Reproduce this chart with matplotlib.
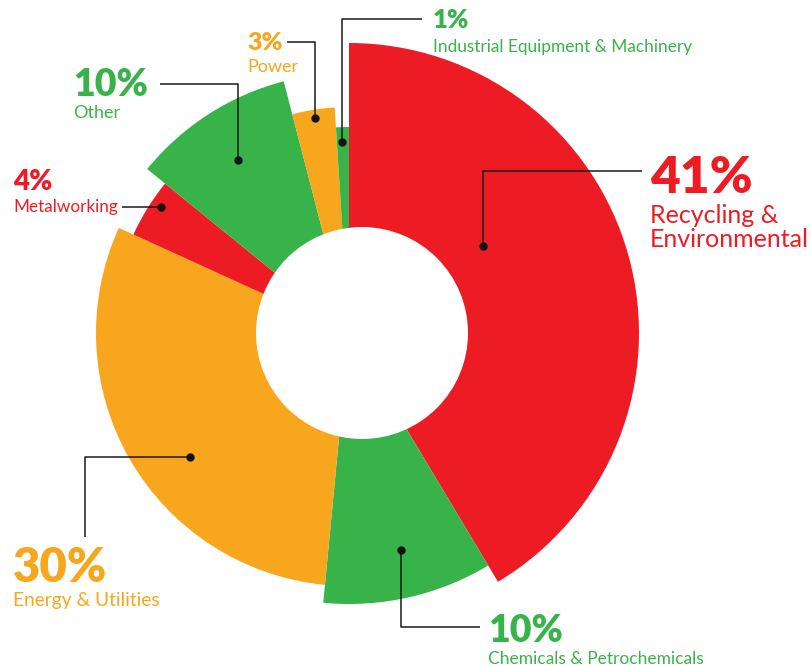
import matplotlib.pyplot as plt
from matplotlib.patches import Circle

W, H = 812, 666

# data
sectors = ["Recycling &\nEnvironmental", "Chemicals & Petrochemicals", "Energy & Utilities",
           "Metalworking", "Other", "Power", "Industrial Equipment & Machinery"]
shares = [41, 10, 30, 4, 10, 3, 1]
pct_labels = ["41%", "10%", "30%", "4%", "10%", "3%", "1%"]

# style
colors = ["#ED1C24", "#37B34A", "#F8A61E", "#ED1C24", "#37B34A", "#F8A61E", "#37B34A"]
radii = [290, 271, 253, 237, 260, 226, 206]
center = (349, H - 333)
hole_center = (362, H - 333)
hole_r = 106

plt.rcParams['font.family'] = ['Lato', 'DejaVu Sans']

fig = plt.figure(figsize=(W / 100, H / 100), dpi=100)
ax = fig.add_axes([0, 0, 1, 1])

wedges, _ = ax.pie(shares, colors=colors, startangle=90, counterclock=False,
                   center=center, radius=1, frame=True,
                   wedgeprops=dict(linewidth=0))
for w, r in zip(wedges, radii):
    w.set_radius(r)

ax.add_patch(Circle(hole_center, hole_r, facecolor="white", edgecolor="none", zorder=3))

ax.set_xlim(0, W)
ax.set_ylim(0, H)
ax.set_aspect("equal")
ax.axis("off")


def P(x, y):
    return (x, H - y)


def leader(points):
    xs = [p[0] for p in points]
    ys = [H - p[1] for p in points]
    ax.plot(xs, ys, color="#1a1a1a", lw=1.1, zorder=5, solid_capstyle="butt")
    ax.plot(xs[0], ys[0], "o", color="#111111", ms=5, zorder=6)


# leader lines (pixel coords, from the dot outwards)
leader([(483, 246), (483, 171), (642, 171)])
leader([(401, 550), (401, 627), (480, 627)])
leader([(190, 457), (85, 457), (85, 537)])
leader([(161, 207), (122, 207)])
leader([(238, 160), (238, 84), (160, 84)])
leader([(315, 118), (315, 42), (287, 42)])
leader([(342, 142), (342, 19), (422, 19)])

# label blocks: x, baseline of pct, pct size, baseline of name, name size
blocks = [
    (650, 193, 37, 223, 18),
    (488, 642, 27, 664, 12.5),
    (13, 582, 34, 606, 13.8),
    (13, 190, 20, 212, 12.3),
    (73, 96, 27, 118, 13),
    (247, 50, 18, 72, 13),
    (433, 28, 18.5, 52, 12.4),
]

for (x, yp, sp, yn, sn), pct, name, c in zip(blocks, pct_labels, sectors, colors):
    ax.text(*P(x, yp), pct, color=c, fontsize=sp, fontweight="heavy",
            ha="left", va="baseline", zorder=7)
    ax.text(*P(x, yn), name.split("\n")[0], color=c, fontsize=sn,
            ha="left", va="baseline", zorder=7)
    if "\n" in name:
        ax.text(*P(x, yn + 24), name.split("\n")[1], color=c, fontsize=sn,
                ha="left", va="baseline", zorder=7)

fig.savefig("out.png", dpi=100)
